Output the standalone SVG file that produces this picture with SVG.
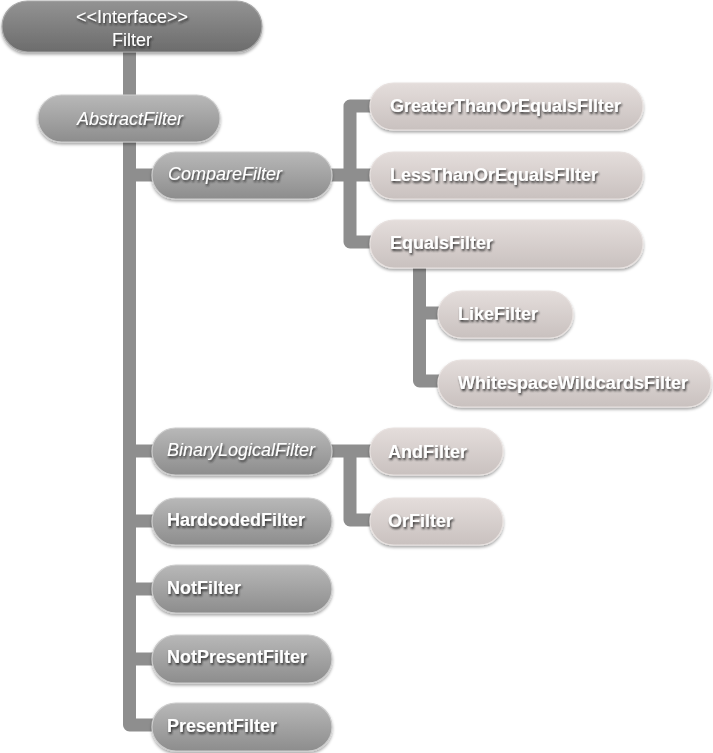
<svg xmlns="http://www.w3.org/2000/svg" width="713" height="753" viewBox="0 0 713 753">
<defs>
<linearGradient id="gDark" x1="0" y1="0" x2="0" y2="1"><stop offset="0" stop-color="#939393"/><stop offset="1" stop-color="#6c6c6c"/></linearGradient>
<linearGradient id="gGray" x1="0" y1="0" x2="0" y2="1"><stop offset="0" stop-color="#b8b8b8"/><stop offset="1" stop-color="#8d8d8d"/></linearGradient>
<linearGradient id="gLight" x1="0" y1="0" x2="0" y2="1"><stop offset="0" stop-color="#e4dddb"/><stop offset="1" stop-color="#c9c1bf"/></linearGradient>
<filter id="nodeShadow" x="-10%" y="-30%" width="120%" height="170%"><feDropShadow dx="0" dy="2" stdDeviation="1.5" flood-color="#000" flood-opacity="0.35"/></filter>
<filter id="textShadow" x="-10%" y="-40%" width="120%" height="190%"><feDropShadow dx="1" dy="2" stdDeviation="1" flood-color="#222" flood-opacity="0.85"/></filter>
</defs>
<style>
.dark{fill:url(#gDark);stroke:#a8a8a8;stroke-width:1.2;filter:url(#nodeShadow)}
.gray{fill:url(#gGray);stroke:#cdcdcd;stroke-width:1.2;filter:url(#nodeShadow)}
.light{fill:url(#gLight);stroke:#e8e2e0;stroke-width:1.2;filter:url(#nodeShadow)}
text{font-family:"Liberation Sans",Arial,sans-serif;font-size:18px;fill:#ffffff;filter:url(#textShadow)}
.b{font-weight:bold}
.i{font-style:italic}
.m{text-anchor:middle}
.conn{fill:none;stroke:#8e8e8e;stroke-width:13;stroke-linejoin:round}
</style>
<g id="connectors">
<path class="conn" d="M129.5 50 V97"/>
<path class="conn" d="M129.5 140 V725 H156"/>
<path class="conn" d="M129.5 175 H156"/>
<path class="conn" d="M129.5 451 H156"/>
<path class="conn" d="M129.5 521 H156"/>
<path class="conn" d="M129.5 589 H156"/>
<path class="conn" d="M129.5 659 H156"/>
<path class="conn" d="M330 175 H350"/>
<path class="conn" d="M374 106 H350 V242 H374"/>
<path class="conn" d="M350 175 H374"/>
<path class="conn" d="M419.5 266 V381 H442"/>
<path class="conn" d="M419.5 313 H442"/>
<path class="conn" d="M330 451 H374"/>
<path class="conn" d="M350 451 V520 H374"/>
</g>
<g id="Filter"><rect class="dark" x="2" y="1" width="260" height="51" rx="25.5"/><text class="m" x="132" y="23">&lt;&lt;Interface&gt;&gt;</text><text class="m" x="132" y="46">Filter</text></g>
<g id="AbstractFilter"><rect class="gray" x="38" y="95" width="182" height="47" rx="23.5"/><text class="i m" x="130" y="125">AbstractFilter</text></g>
<g id="CompareFilter"><rect class="gray" x="152" y="152" width="180" height="47" rx="23.5"/><text class="i" x="168" y="180">CompareFilter</text></g>
<g id="GreaterThanOrEqualsFIlter"><rect class="light" x="370" y="83" width="273" height="47" rx="23.5"/><text class="b" x="390" y="112">GreaterThanOrEqualsFIlter</text></g>
<g id="LessThanOrEqualsFIlter"><rect class="light" x="370" y="152" width="273" height="47" rx="23.5"/><text class="b" x="390" y="181">LessThanOrEqualsFIlter</text></g>
<g id="EqualsFilter"><rect class="light" x="370" y="220" width="273" height="48" rx="24"/><text class="b" x="390" y="249">EqualsFilter</text></g>
<g id="LikeFilter"><rect class="light" x="438" y="291" width="135" height="47" rx="23.5"/><text class="b" x="458" y="320">LikeFilter</text></g>
<g id="WhitespaceWildcardsFilter"><rect class="light" x="438" y="360" width="273" height="47" rx="23.5"/><text class="b" x="458" y="389">WhitespaceWildcardsFilter</text></g>
<g id="BinaryLogicalFilter"><rect class="gray" x="152" y="428" width="180" height="47" rx="23.5"/><text class="i" x="167" y="456">BinaryLogicalFilter</text></g>
<g id="AndFilter"><rect class="light" x="370" y="428" width="133" height="47" rx="23.5"/><text class="b" x="388" y="458">AndFilter</text></g>
<g id="OrFilter"><rect class="light" x="370" y="498" width="133" height="47" rx="23.5"/><text class="b" x="388" y="527">OrFilter</text></g>
<g id="HardcodedFilter"><rect class="gray" x="152" y="498" width="180" height="47" rx="23.5"/><text class="b" x="167" y="526">HardcodedFilter</text></g>
<g id="NotFilter"><rect class="gray" x="152" y="565" width="180" height="48" rx="24"/><text class="b" x="167" y="594">NotFilter</text></g>
<g id="NotPresentFilter"><rect class="gray" x="152" y="635" width="180" height="48" rx="24"/><text class="b" x="167" y="663">NotPresentFilter</text></g>
<g id="PresentFilter"><rect class="gray" x="152" y="703" width="180" height="48" rx="24"/><text class="b" x="167" y="732">PresentFilter</text></g>
</svg>
